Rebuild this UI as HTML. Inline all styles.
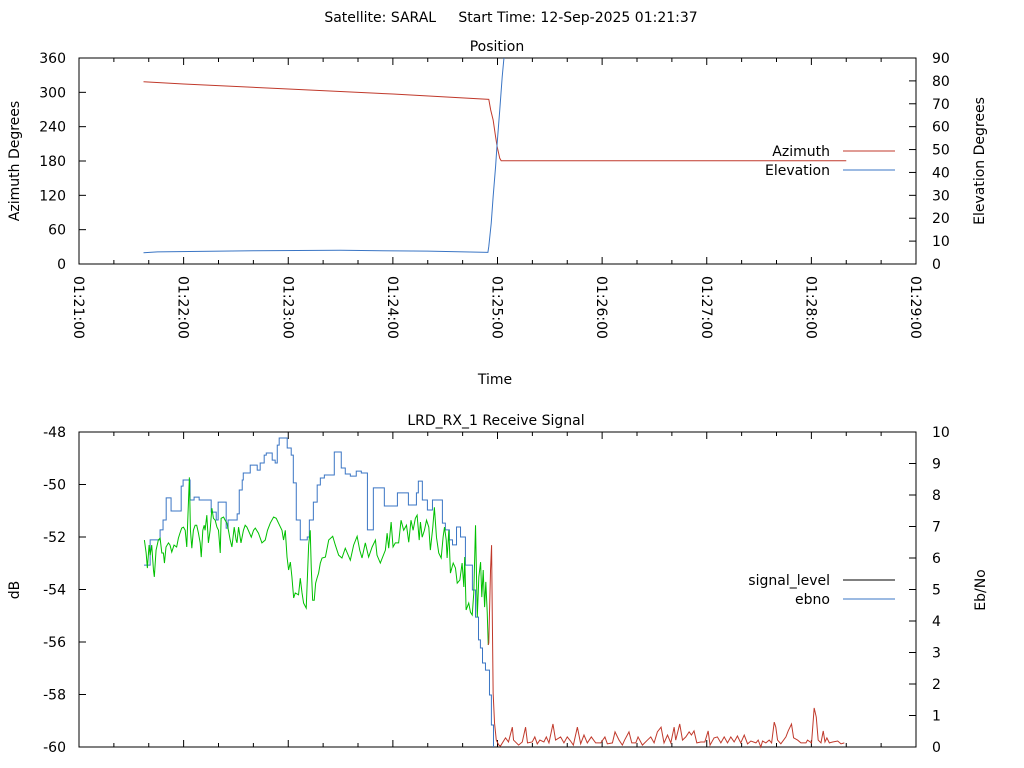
<!DOCTYPE html>
<html><head><meta charset="utf-8"><style>
html,body{margin:0;padding:0;background:#fff;}
svg{display:block;font-family:"DejaVu Sans","Liberation Sans",sans-serif;}
</style></head><body>
<svg id="c" width="1024" height="768" viewBox="0 0 1024 768" xmlns="http://www.w3.org/2000/svg">
<text x="511" y="22" font-size="14" text-anchor="middle" xml:space="preserve">Satellite: SARAL     Start Time: 12-Sep-2025 01:21:37</text>
<text x="497" y="51" font-size="14" text-anchor="middle">Position</text>
<text x="495" y="384" font-size="14" text-anchor="middle">Time</text>
<text x="496" y="425" font-size="14" text-anchor="middle">LRD_RX_1 Receive Signal</text>
<text transform="translate(19,161) rotate(-90)" font-size="14" text-anchor="middle">Azimuth Degrees</text>
<text transform="translate(984,161) rotate(-90)" font-size="14" text-anchor="middle">Elevation Degrees</text>
<text transform="translate(19,590) rotate(-90)" font-size="14" text-anchor="middle">dB</text>
<text transform="translate(985,590) rotate(-90)" font-size="14" text-anchor="middle">Eb/No</text>
<g id="g"></g>
</svg>
<script>
// time in seconds since 01:21:00
const azT=[37,60,120,180,235,236.1,237.5,238.9,239.8,241.3,242.1,440];
const azV=[318.6,314.6,305.8,297,287.8,269.1,251.7,222.5,205,184.7,180.5,180.5];
const elT=[37,45,100,150,200,234.5,235.0,236.4,237.5,238.9,239.8,241.3,242.7,243.6,244.5];
const elV=[4.9,5.3,5.8,6.0,5.6,5.1,7.6,17.8,29.4,42.5,52.7,67.3,81.8,89.2,93.5];
const sigT=[37.3,40.8,46.5,48.2,50,52.8,58.6,59.7,63.7,66,68.9,75.8,78.7,79.8,84.4,85.5,90.7,91.9,93.6,94.2,98.2,102.2,103.9,106.2,107.4,110.8,112.5,113.7,114.8,119.4,121.7,122.9,124.6,126.9,130.9,132.1,134.4,136.6,138.4,140.7,146.4,150.4,152.7,155.6,159,161.9,165.4,168.8,175.1,182.6,188.9,193.5,194.6,196.9,199.8,202.7,208.4,210.1,212.4,214.2,216.5,218.8,221.6,225.6,227.4,229.1,230.2,231.4,233.1,235.4,236.5,237.7];
const sigV=[-53.07,-52.11,-51.73,-51.35,-50.51,-51.01,-50.06,-49.83,-50.59,-50.48,-50.59,-51.05,-51.35,-50.67,-51.66,-51.35,-51.12,-50.21,-49.83,-49.56,-49.26,-49.45,-49.18,-48.88,-48.80,-49.07,-49.18,-48.50,-48.23,-48.61,-48.88,-49.94,-51.35,-52.11,-52.00,-51.35,-50.67,-50.02,-49.75,-49.64,-48.76,-49.37,-49.60,-49.68,-49.49,-49.56,-51.73,-50.13,-50.82,-50.32,-50.78,-50.32,-49.87,-50.59,-50.97,-50.59,-51.47,-51.73,-52.11,-52.30,-51.62,-52.00,-53.07,-54.02,-55.05,-55.92,-56.23,-56.80,-57.07,-58.02,-59.16,-60];
const gT=[37.5,38.5,39.2,40.2,40.8,41.7,42.7,43.2,44.2,45.5,46.5,47.5,48.4,49.0,49.9,51.3,52.2,53.2,54.5,56.0,57.0,57.9,58.9,59.9,60.9,61.8,62.8,63.3,63.9,64.7,65.6,66.6,67.5,68.5,69.5,70.1,71.0,71.8,72.3,73.3,74.2,75.2,76.2,77.1,78.1,79.1,80.0,81.0,81.5,82.9,83.8,84.8,85.7,86.7,87.7,89.0,90.1,90.6,91.5,92.9,94.3,95.3,96.3,97.8,98.8,100.1,101.1,102.9,104.9,106.8,108.1,109.7,111.6,113.1,114.4,116.4,117.3,118.3,119.3,120.2,121.2,122.1,123.1,124.0,125.9,126.9,127.9,128.8,130.3,131.7,132.6,133.2,134.0,134.9,135.7,136.5,137.4,138.4,139.4,141.3,143.2,145.5,147.0,148.9,150.8,152.7,155.6,157.5,159.5,161.0,162.3,164.2,166.1,168.1,170.0,170.9,172.8,175.7,176.7,177.6,179.0,180.1,181.4,183.3,184.7,186.2,187.8,189.1,190.4,191.6,192.9,193.9,195.1,195.8,196.8,198.1,199.3,200.6,201.5,202.9,203.8,205.0,206.3,207.7,208.8,209.6,210.6,211.1,212.1,213.0,214.6,215.9,216.9,218.4,219.7,220.7,221.2,222.0,223.5,224.5,225.5,226.4,227.4,228.4,229.3,230.3,231.0,231.8,232.6,233.3,234.1,234.7];
const gV=[6.57,6.16,5.68,6.41,6.09,6.41,5.62,5.40,6.25,6.57,6.63,6.16,6.16,5.84,6.35,6.48,6.41,6.19,6.41,6.35,6.63,6.79,6.95,6.98,6.88,6.35,7.83,8.56,6.88,6.31,6.88,7.04,7.04,6.79,6.48,6.03,6.88,7.04,6.88,7.36,6.48,6.88,7.58,7.26,7.20,6.98,6.88,6.16,7.26,7.30,7.20,7.11,6.88,6.57,6.35,6.98,6.57,6.48,6.98,6.48,6.88,7.04,6.98,6.79,6.66,6.88,6.95,6.79,6.48,6.57,6.88,7.11,7.30,7.26,7.11,6.88,6.57,6.88,6.03,5.62,5.87,5.40,4.73,4.89,4.83,5.36,4.89,4.57,4.41,6.41,6.88,5.68,4.66,4.66,5.20,5.36,5.52,5.84,6.00,6.03,6.57,6.69,6.41,6.09,6.00,6.31,5.93,6.41,6.69,6.25,6.00,6.48,6.03,6.35,6.57,6.09,5.84,6.25,6.79,6.31,7.14,6.35,6.48,6.48,7.20,6.88,7.04,6.50,7.20,6.88,7.26,7.36,6.57,7.14,6.66,6.88,7.20,6.98,6.25,6.98,7.61,6.66,6.16,6.00,6.66,6.98,6.57,6.00,6.88,5.52,5.84,5.68,5.20,5.30,5.84,5.08,6.03,4.35,4.57,4.28,4.19,4.89,7.04,4.12,5.40,5.87,4.76,5.62,4.44,5.24,4.28,3.24];
const rT=[234.7,235.0,236.0,236.6,237.0,237.5,238.3,239.3,240.8,241.7,244.6,246.3,248.5,249.2,252.1,254.2,256.1,257.2,259.9,261.4,262.8,264.3,266.6,268.0,269.5,271.8,273.3,276.2,278.1,280.0,281.9,283.5,285.8,287.7,289.6,291.5,293.8,296.3,299.2,301.6,303.0,305.9,307.4,309.7,311.6,312.9,315.4,317.0,319.3,320.6,323.1,326.0,327.9,329.8,331.7,333.8,335.5,337.5,339.4,341.3,342.2,344.5,346.1,348.0,349.9,351.2,352.7,354.3,356.6,358.9,360.8,361.9,364.2,366.1,368.1,370.0,371.9,373.8,375.7,377.6,379.5,381.5,383.4,385.3,388.2,389.5,391.0,392.0,393.9,395.8,397.2,398.7,399.6,400.6,402.5,405.4,406.7,408.6,409.8,412.1,414.0,416.9,417.8,420.1,421.6,422.8,423.9,425.5,426.8,427.8,428.9,430.3,432.2,435.1,437.0,438.9];
const rV=[3.24,3.30,5.62,6.41,4.25,1.71,0.76,0.22,0.06,0.03,0.29,0.16,0.63,0.22,0.06,0.16,0.63,0.13,0.16,0.32,0.10,0.22,0.16,0.32,0.13,0.73,0.22,0.32,0.13,0.32,0.19,0.06,0.63,0.10,0.38,0.13,0.32,0.13,0.13,0.32,0.10,0.13,0.48,0.22,0.06,0.22,0.48,0.13,0.13,0.32,0.06,0.22,0.32,0.13,0.48,0.63,0.13,0.38,0.13,0.63,0.22,0.73,0.22,0.32,0.48,0.38,0.51,0.13,0.16,0.16,0.51,0.06,0.29,0.32,0.13,0.32,0.13,0.32,0.16,0.35,0.13,0.38,0.10,0.19,0.13,0.22,0,0.19,0.13,0.22,0.13,0.79,0.63,0.22,0.10,0.32,0.51,0.73,0.29,0.22,0.13,0.13,0.22,0.13,1.24,0.95,0.22,0.13,0.51,0.16,0.29,0.13,0.16,0.19,0.10,0.13];
const azTicks=[0,60,120,180,240,300,360];
const elTicks=[0,10,20,30,40,50,60,70,80,90];
const dbTicks=[-60,-58,-56,-54,-52,-50,-48];
const ebTicks=[0,1,2,3,4,5,6,7,8,9,10];
const timeLabels=["01:21:00","01:22:00","01:23:00","01:24:00","01:25:00","01:26:00","01:27:00","01:28:00","01:29:00"];

const NS="http://www.w3.org/2000/svg";
const g=document.getElementById('g');
const L=79,R=916;
const P1={top:58,bot:264}, P2={top:432,bot:747};
const xs=t=>L+t*(R-L)/480;
const ys=(v,lo,hi,P)=>P.bot-(v-lo)/(hi-lo)*(P.bot-P.top);
function mk(tag,attrs,parent){const e=document.createElementNS(NS,tag);for(const k in attrs)e.setAttribute(k,attrs[k]);(parent||g).appendChild(e);return e;}
function axes(P,name,lt,llo,lhi,rt,rlo,rhi,showX){
  const grp=mk('g',{});
  
  
  mk('rect',{x:L,y:P.top,width:R-L,height:P.bot-P.top,fill:'none',stroke:'#000','stroke-width':1},grp);
  lt.forEach(v=>{const y=ys(v,llo,lhi,P);mk('line',{x1:L,x2:L+7,y1:y,y2:y,stroke:'#000'},grp);
    const t=mk('text',{x:L-13,y:y+5,'font-size':14,'text-anchor':'end'},grp);t.textContent=v;
    });
  rt.forEach(v=>{const y=ys(v,rlo,rhi,P);mk('line',{x1:R-7,x2:R,y1:y,y2:y,stroke:'#000'},grp);
    const t=mk('text',{x:R+16,y:y+5,'font-size':14},grp);t.textContent=v;
    });
  for(let s=0;s<=480;s+=20){const x=xs(s);const len=(s%60===0)?7:4;
    mk('line',{x1:x,x2:x,y1:P.bot,y2:P.bot-len,stroke:'#000'},grp);
    mk('line',{x1:x,x2:x,y1:P.top,y2:P.top+len,stroke:'#000'},grp);}
  if(showX) timeLabels.forEach((lab,i)=>{const x=xs(i*60);
    const t=mk('text',{transform:`translate(${x-5},${P.bot+12}) rotate(90)`,'font-size':14},grp);t.textContent=lab;
    });
}
axes(P1,'position',azTicks,0,360,elTicks,0,90,true);
axes(P2,'signal',dbTicks,-60,-48,ebTicks,0,10,false);
mk('clipPath',{id:'cp1'}).appendChild(document.createElementNS(NS,'rect'));
const cr=document.querySelector('#cp1 rect');cr.setAttribute('x',L);cr.setAttribute('y',P1.top);cr.setAttribute('width',R-L);cr.setAttribute('height',P1.bot-P1.top);
function line(T,V,lo,hi,P,color,name,step,clip){
  let d='';T.forEach((t,i)=>{const x=xs(t),y=ys(V[i],lo,hi,P);
    if(i===0)d+=`M${x},${y}`;else if(step){d+=`H${x}V${y}`;}else d+=`L${x},${y}`;});
  const p=mk('path',{d:d,fill:'none',stroke:color,'stroke-width':1});
  if(clip)p.setAttribute('clip-path','url(#cp1)');
  
  
}
line(azT,azV,0,360,P1,'#c0392b','azimuth-line',false,true);
line(elT,elV,0,90,P1,'#3a75c4','elevation-line',false,true);
line(sigT,sigV,-60,-48,P2,'#3a75c4','signal-level-line',true,false);
line(gT,gV,0,10,P2,'#00c000','ebno-line',false,false);
line(rT,rV,0,10,P2,'#c0392b','ebno-low-line',false,false);
function legend(y,label,color,name){
  const grp=mk('g',{});
  
  
  const t=mk('text',{x:830,y:y+5,'font-size':14,'text-anchor':'end'},grp);t.textContent=label;
  mk('line',{x1:843,x2:895,y1:y,y2:y,stroke:color},grp);
}
legend(151,'Azimuth','#c0392b','legend-azimuth');
legend(170,'Elevation','#3a75c4','legend-elevation');
legend(580,'signal_level','#000','legend-signal-level');
legend(599,'ebno','#3a75c4','legend-ebno');
</script>
</body></html>
